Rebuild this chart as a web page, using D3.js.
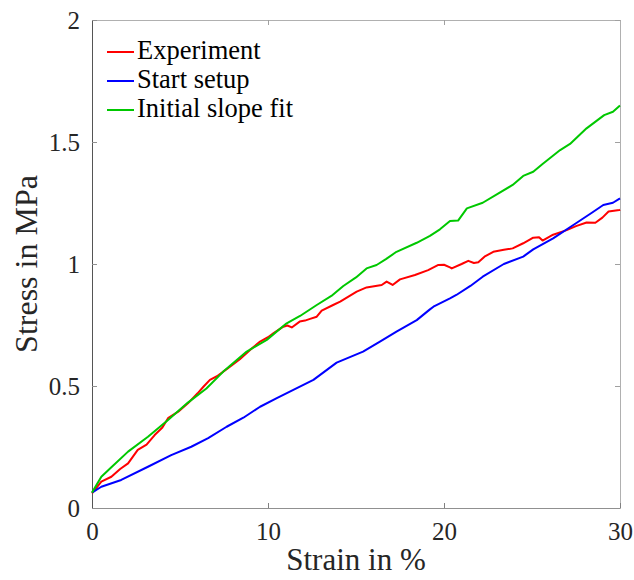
<!DOCTYPE html>
<html><head><meta charset="utf-8">
<script src="https://cdn.jsdelivr.net/npm/d3@7"></script>
<style>body{margin:0;background:#fff}svg{display:block}
svg text{font-family:"Liberation Serif","DejaVu Serif","Times New Roman",serif;}</style>
</head><body>
<script>
const seriesNames = ["Experiment", "Start setup", "Initial slope fit"];
const seriesColors = ["#ff0000", "#0000ff", "#00c800"];
const xTicks = [0, 10, 20, 30];
const yTicks = [0, 0.5, 1, 1.5, 2];
const yTickLabels = ["0", "0.5", "1", "1.5", "2"];

const experimentStrain = [0,0.53,1.1,1.6,2.05,2.6,3.1,3.56,4.0,4.32,4.9,5.45,6.0,6.33,6.7,7.1,7.46,7.84,8.4,8.98,9.55,10.0,10.3,10.87,11.1,11.35,11.8,12.1,12.39,12.77,13.05,13.7,14.1,15.04,15.6,16.46,16.74,17.08,17.5,18.35,19.1,19.68,20.0,20.34,20.44,21.0,21.38,21.7,21.95,22.3,22.8,23.4,23.9,24.5,25.07,25.4,25.6,26.2,26.97,27.5,28.1,28.6,29.0,29.35,29.96,30];
const experimentStress = [0.06,0.108,0.128,0.16,0.183,0.238,0.26,0.299,0.33,0.368,0.395,0.429,0.47,0.497,0.525,0.54,0.559,0.579,0.61,0.648,0.682,0.70,0.716,0.743,0.748,0.74,0.764,0.768,0.775,0.784,0.809,0.832,0.846,0.887,0.904,0.914,0.928,0.914,0.937,0.955,0.975,0.996,0.997,0.986,0.982,1.0,1.013,1.004,1.007,1.03,1.05,1.058,1.064,1.085,1.108,1.11,1.096,1.12,1.139,1.155,1.17,1.169,1.19,1.215,1.221,1.223];

const startStrain = [0,0.53,1.66,3.18,4.5,5.64,6.6,7.65,8.6,9.55,10.5,11.44,12.58,13.9,15.4,16.36,17.3,18.45,19.2,19.4,20.34,20.7,21.5,22.2,23.4,24.5,25.07,26.2,27.5,28.4,29.05,29.6,30];
const startStress = [0.063,0.087,0.115,0.169,0.217,0.251,0.286,0.333,0.37,0.415,0.45,0.484,0.525,0.596,0.641,0.682,0.723,0.77,0.814,0.825,0.859,0.873,0.91,0.948,1.0,1.03,1.06,1.105,1.167,1.21,1.242,1.251,1.269];

const fitStrain = [0,0.53,1.1,2.05,3.18,4.32,5.45,6.5,7.46,8.79,9.93,11.06,11.82,12.77,13.6,14.28,15.0,15.6,16.17,16.7,17.3,18.45,19.2,19.77,20.34,20.8,21.3,22.2,23.0,23.9,24.5,25.07,25.6,26.6,27.16,28.1,29.1,29.6,30];
const fitStress = [0.063,0.128,0.167,0.231,0.292,0.361,0.432,0.49,0.559,0.641,0.689,0.757,0.787,0.832,0.869,0.91,0.945,0.982,0.996,1.02,1.05,1.087,1.115,1.142,1.176,1.178,1.228,1.251,1.285,1.324,1.361,1.378,1.41,1.467,1.492,1.556,1.61,1.624,1.65];

const W = 634, H = 580;
const m = {left: 92, right: 14, top: 20, bottom: 72};
const svg = d3.select("body").append("svg").attr("width", W).attr("height", H);
const x = d3.scaleLinear().domain([0, 30]).range([m.left, W - m.right]);
const y = d3.scaleLinear().domain([0, 2]).range([H - m.bottom, m.top]);

function styleAxis(color, domainColor) {
  return g => {
    g.attr("font-family", null);
    g.select(".domain").attr("stroke", domainColor).attr("stroke-width", 1);
    g.selectAll(".tick line").attr("stroke", color);
    g.selectAll(".tick text").style("font-size", "25px").attr("fill", "#262626");
  };
}
svg.append("g").attr("transform", `translate(0,${y(2)})`)
  .call(d3.axisTop(x).tickValues(xTicks).tickSize(-5).tickSizeOuter(0).tickFormat(""))
  .call(styleAxis("#a0a0a0", "#b0b0b0"));
svg.append("g").attr("transform", `translate(${x(30)},0)`)
  .call(d3.axisRight(y).tickValues(yTicks).tickSize(-5).tickSizeOuter(0).tickFormat(""))
  .call(styleAxis("#a0a0a0", "#b0b0b0"));
svg.append("g").attr("transform", `translate(0,${y(0)})`)
  .call(d3.axisBottom(x).tickValues(xTicks).tickSize(-5).tickSizeOuter(0).tickPadding(14).tickFormat(d3.format("d")))
  .call(styleAxis("#808080", "#909090"));
svg.append("g").attr("transform", `translate(${x(0)},0)`)
  .call(d3.axisLeft(y).tickValues(yTicks).tickSize(-5).tickSizeOuter(0).tickPadding(12).tickFormat((d, i) => yTickLabels[i]))
  .call(styleAxis("#909090", "#555555"));

const series = [
  d3.zip(experimentStrain, experimentStress),
  d3.zip(startStrain, startStress),
  d3.zip(fitStrain, fitStress)
];
const line = d3.line().x(d => x(d[0])).y(d => y(d[1]));
series.forEach((s, i) => {
  svg.append("path").datum(s).attr("d", line).attr("fill", "none")
    .attr("stroke", seriesColors[i]).attr("stroke-width", 2).attr("stroke-linejoin", "round");
});

svg.append("text").attr("x", (x(0) + x(30)) / 2).attr("y", 570).attr("text-anchor", "middle")
  .style("font-size", "31px").attr("fill", "#262626").text("Strain in %");
svg.append("text").attr("transform", `translate(37,${(y(0) + y(2)) / 2}) rotate(-90)`).attr("text-anchor", "middle")
  .style("font-size", "32px").attr("fill", "#262626").text("Stress in MPa");

const lg = svg.append("g");
seriesNames.forEach((n, i) => {
  const yy = 52 + i * 29;
  lg.append("line").attr("x1", 107).attr("x2", 134).attr("y1", yy).attr("y2", yy)
    .attr("stroke", seriesColors[i]).attr("stroke-width", 2);
  lg.append("text").attr("x", 137).attr("y", yy + 7).style("font-size", "26.5px")
    .attr("fill", "#000").text(n);
});
</script>
</body></html>
